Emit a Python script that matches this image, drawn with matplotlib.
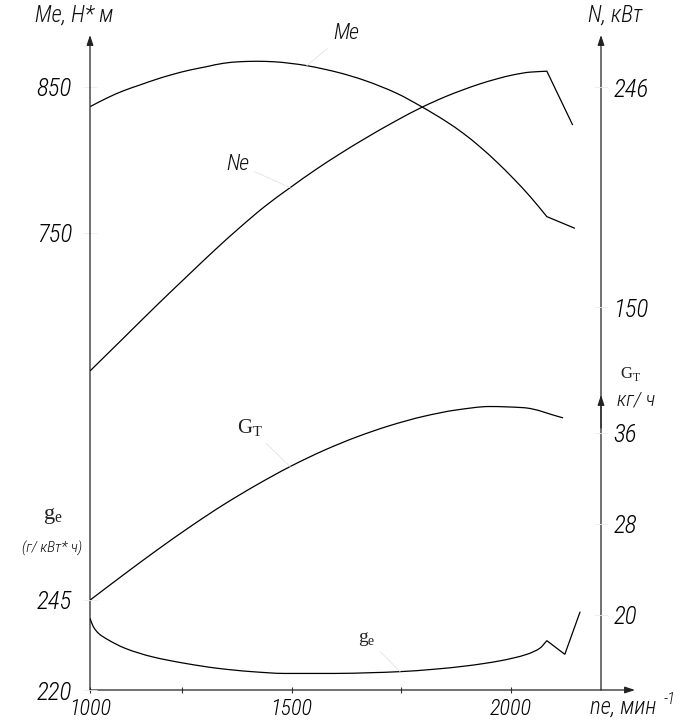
import numpy as np
import matplotlib
matplotlib.use("Agg")
import matplotlib.pyplot as plt
from matplotlib import font_manager as fm
from matplotlib.path import Path
from matplotlib.patches import ConnectionPatch, PathPatch

# ---------------------------------------------------------
# engine speed characteristic

me_rpm = [1000, 1045, 1090, 1136, 1181, 1226, 1268, 1306, 1344, 1382, 1421,
          1458, 1497, 1535, 1573, 1611, 1664, 1740, 1797, 1854, 1892, 1930,
          1968, 2006, 2045, 2083, 2147]
me_vals = [836.5, 842.3, 847.3, 851.4, 855.3, 858.7, 861.6, 863.9, 866.2,
           867.3, 867.6, 867.3, 866.2, 864.6, 862.3, 859.6, 854.8, 845.7,
           836.5, 826.2, 818.3, 809.1, 798.8, 787.5, 774.9, 761.2, 753.2]

ne_rpm = [1000, 1090, 1181, 1268, 1325, 1382, 1439, 1497, 1554, 1611, 1664,
          1740, 1797, 1854, 1892, 1930, 1968, 2006, 2045, 2083, 2142]
ne_vals = [122.1, 136.3, 150.7, 164.6, 174.9, 184.7, 193.9, 202.1, 209.8,
           216.9, 223.1, 231.4, 237.1, 242.0, 244.8, 247.35, 249.5, 251.3,
           252.5, 252.9, 229.4]

gt_rpm = [1000, 1090, 1181, 1268, 1344, 1421, 1497, 1573, 1649, 1725, 1801,
          1877, 1953, 2029, 2120]
gt_vals = [21.3, 23.5, 25.67, 27.73, 29.66, 31.43, 33.03, 34.43, 35.63, 36.63,
           37.43, 38.0, 38.3, 38.2, 37.3]

ge_rpm = [1000, 1009, 1023, 1050, 1095, 1168, 1257, 1333, 1409, 1485, 1600,
          1680, 1748, 1824, 1900, 1976, 2037, 2067, 2083, 2124, 2159]
ge_vals = [239.9, 237.6, 235.75, 233.9, 231.6, 229.25, 227.4, 226.0, 225.1,
           224.6, 224.6, 224.8, 225.1, 225.75, 226.7, 228.1, 229.9, 231.6,
           233.7, 229.9, 241.75]

# regulator break (rpm) where the smooth branch ends
BREAK_RPM = 2083

x_ticks = [1000, 1250, 1500, 1750, 2000]
x_labels = ["1000", "", "1500", "", "2000"]
me_ticks = [750, 850]
ne_ticks = [150, 246]
gt_ticks = [20, 28, 36]
ge_ticks = [220, 245]

# ---------------------------------------------------------

def find_narrow():
  """ installed narrow italic sans (lightest first), else None """
  prefs = ["liberationsansnarrow", "robotocondensed", "notosans-condensed",
           "opensans_condensed", "opensanscondensed", "dejavusanscondensed"]
  for p in prefs:
    found = []
    for f in fm.fontManager.ttflist:
      fn = f.fname.lower().replace(" ", "")
      w = f.weight if isinstance(f.weight, int) else 400
      if p in fn and f.style == "italic" and 300 <= w <= 400 and "bold" not in fn:
        found.append((abs(w - 300), f.fname))
    if found:
      return sorted(found)[0][1]
  return None

NARROW_FILE = find_narrow()

def tfont(size):
  if NARROW_FILE:
    return fm.FontProperties(fname=NARROW_FILE, size=size)
  return fm.FontProperties(family=["Liberation Sans", "DejaVu Sans"],
                           style="italic", size=size * 0.93)

plt.rcParams["mathtext.fontset"] = "custom"
plt.rcParams["mathtext.rm"] = "Liberation Serif"

# the rpm axis of the drawing is stretched a bit below 1250
KN_RPM = [0, 1000, 1250, 5000]
KN_U = [-368.0, 0.0, 92.0, 92.0 + 3750 * 0.438]

def fwd(x):
  return np.interp(x, KN_RPM, KN_U)

def inv(u):
  return np.interp(u, KN_U, KN_RPM)

def px(x, y):
  return x / 690, 1 - y / 725

def smooth_path(xs, ys):
  """ monotone cubic (pchip style) bezier path through the read points,
      smooth up to the regulator break, straight after it """
  xs = np.asarray(xs, float)
  ys = np.asarray(ys, float)
  nb = int(np.searchsorted(xs, BREAK_RPM)) + 1
  u, y = fwd(xs[:nb]), ys[:nb]
  h = np.diff(u)
  d = np.diff(y) / h
  m = np.zeros_like(y)
  m[0], m[-1] = d[0], d[-1]
  for k in range(1, len(y) - 1):
    if d[k - 1] * d[k] > 0:
      w1 = 2 * h[k] + h[k - 1]
      w2 = h[k] + 2 * h[k - 1]
      m[k] = (w1 + w2) / (w1 / d[k - 1] + w2 / d[k])
  verts = [(xs[0], ys[0])]
  codes = [Path.MOVETO]
  for k in range(len(y) - 1):
    c1 = (inv(u[k] + h[k] / 3), y[k] + m[k] * h[k] / 3)
    c2 = (inv(u[k + 1] - h[k] / 3), y[k + 1] - m[k + 1] * h[k] / 3)
    verts += [c1, c2, (xs[k + 1], ys[k + 1])]
    codes += [Path.CURVE4] * 3
  for k in range(nb, len(xs)):
    verts.append((xs[k], ys[k]))
    codes.append(Path.LINETO)
  return Path(verts, codes)

fig = plt.figure(figsize=(6.9, 7.25), dpi=100)
ax = fig.add_axes([90 / 690, 35 / 725, 545 / 690, 655 / 725])
ax.set_xscale("function", functions=(fwd, inv))
ax.set_xlim(1000, inv(545))

ax_n = ax.twinx()
ax_g = ax.twinx()
ax_ge = ax.twinx()

ax.set_ylim(437.0, 885.6)
ax_n.set_ylim(-17.1, 268.7)
ax_g.set_ylim(13.41, 70.92)
ax_ge.set_ylim(220.0, 401.9)

for a in (ax, ax_n, ax_g, ax_ge):
  for s in a.spines.values():
    s.set_visible(False)

for a, xs, ys in ((ax, me_rpm, me_vals), (ax_n, ne_rpm, ne_vals),
                  (ax_g, gt_rpm, gt_vals), (ax_ge, ge_rpm, ge_vals)):
  a.add_patch(PathPatch(smooth_path(xs, ys), transform=a.transData, fill=False,
                        edgecolor="black", lw=0.9, joinstyle="miter"))

# faint line at the governor break
fig.add_artist(ConnectionPatch((ne_rpm[19], ne_vals[19]), (ge_rpm[18], ge_vals[18]),
                               coordsA=ax_n.transData, coordsB=ax_ge.transData,
                               color="#f0f0f0", lw=0.8, zorder=0))

# ticks
ax.set_xticks(x_ticks, x_labels)
for lb in ax.get_xticklabels():
  lb.set_fontproperties(tfont(16))
ax.tick_params(axis="x", direction="inout", length=5, width=0.8, color="#333333", pad=3)

faint = dict(axis="y", direction="inout", length=10, width=0.6, color="#ececec")
ax.set_yticks(me_ticks, [str(v) for v in me_ticks])
ax.tick_params(pad=8, **faint)

ax_ge.yaxis.tick_left()
ax_ge.set_yticks(ge_ticks, [str(v) for v in ge_ticks])
ax_ge.tick_params(pad=8, **faint)

xr = (601 - 90) / 545
for a, t in ((ax_n, ne_ticks), (ax_g, gt_ticks)):
  a.yaxis.tick_right()
  a.set_yticks(t, [str(v) for v in t])
  a.tick_params(pad=4, **faint)
  # move the right ticks onto the right axis line
  for tk in a.yaxis.get_major_ticks():
    tk.tick2line.set_xdata([xr])
    tk.label2.set_x(xr)

for a in (ax, ax_ge):
  for lb in a.get_yticklabels():
    lb.set_fontproperties(tfont(18))
for a in (ax_n, ax_g):
  for tk in a.yaxis.get_major_ticks():
    tk.label2.set_fontproperties(tfont(18))

# axis arrows
head = "-|>,head_length=0.6,head_width=0.2"
arrow = dict(arrowstyle=head, color="#222222", lw=0.9, mutation_scale=10,
             shrinkA=0, shrinkB=0)
for start, end in (((0, 0), (0, 1)), ((xr, 0), (xr, 1)), ((0, 0), (1, 0)),
                   ((xr, 0.40), (xr, 0.4504))):
  ax.annotate("", xy=end, xytext=start, xycoords="axes fraction",
              textcoords="axes fraction", arrowprops=arrow)

# axis titles
txt = dict(color="#111111", va="center", ha="left")
fig.text(*px(35, 15), "Me, Н* м", fontproperties=tfont(16.5), **txt)
fig.text(*px(588, 15), "N, кВт", fontproperties=tfont(16.5), **txt)
fig.text(*px(617, 400), "кг/ ч", fontproperties=tfont(15), **txt)
fig.text(*px(22, 548), "(г/ кВт* ч)", fontproperties=tfont(11), **txt)
fig.text(*px(590, 707), "nе, мин", fontproperties=tfont(16.5), **txt)
fig.text(*px(664, 699), "-1", fontproperties=tfont(12), **txt)
fig.text(*px(620, 374), r"$\mathrm{G}_{\mathrm{T}}$", fontsize=12, color="#222222",
         va="center", ha="left")
fig.text(*px(43, 516), r"$\mathrm{g}_{\mathrm{e}}$", fontsize=16, color="#222222",
         va="center", ha="left")

# curve labels with faint leaders
lead = dict(arrowstyle="-", color="#e4e4e4", lw=0.6, shrinkA=2, shrinkB=0)
ax.annotate("Me", xy=(me_rpm[13], me_vals[13]), xytext=px(333, 33),
            textcoords="figure fraction", fontproperties=tfont(16), arrowprops=lead, **txt)
ax_n.annotate("Ne", xy=(ne_rpm[7], ne_vals[7]), xytext=px(226, 164),
              textcoords="figure fraction", fontproperties=tfont(16), arrowprops=lead, **txt)
ax_g.annotate(r"$\mathrm{G}_{\mathrm{T}}$", xy=(gt_rpm[6], gt_vals[6]), xytext=px(237, 428),
              textcoords="figure fraction", fontsize=15, color="#222222",
              va="center", ha="left", arrowprops=lead)
ax_ge.annotate(r"$\mathrm{g}_{\mathrm{e}}$", xy=(ge_rpm[12], ge_vals[12]), xytext=px(358, 638),
               textcoords="figure fraction", fontsize=14, color="#222222",
               va="center", ha="left", arrowprops=lead)

fig.savefig("out.png", dpi=100)
